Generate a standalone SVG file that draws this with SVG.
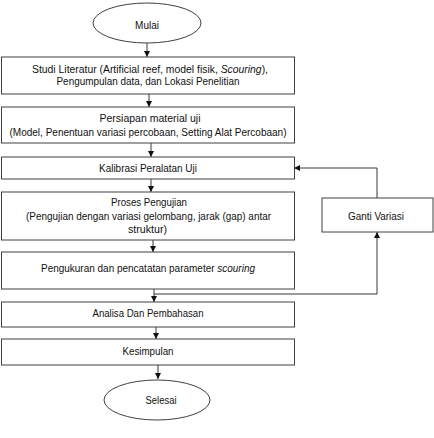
<svg xmlns="http://www.w3.org/2000/svg" width="434" height="438" viewBox="0 0 434 438">
<defs>
<style>
.box{fill:#fff;stroke:#404040;stroke-width:1}
.t{font-family:"Liberation Sans",Arial,sans-serif;font-size:10px;fill:#111;text-anchor:middle}
.c{fill:none;stroke:#222;stroke-width:0.9}
</style>
<marker id="ah" viewBox="0 0 10 10" refX="10" refY="5" markerWidth="6" markerHeight="6" markerUnits="userSpaceOnUse" orient="auto">
<path d="M0,0 L10,5 L0,10 Z" fill="#111"/>
</marker>
</defs>
<rect width="434" height="438" fill="#fff"/>
<g id="connectors">
<line class="c" x1="147" y1="43" x2="147" y2="57" marker-end="url(#ah)"/>
<line class="c" x1="149" y1="94" x2="149" y2="107" marker-end="url(#ah)"/>
<line class="c" x1="151" y1="143" x2="151" y2="157" marker-end="url(#ah)"/>
<line class="c" x1="151" y1="179" x2="151" y2="192" marker-end="url(#ah)"/>
<line class="c" x1="153" y1="240" x2="153" y2="252" marker-end="url(#ah)"/>
<line class="c" x1="154" y1="289" x2="154" y2="302" marker-end="url(#ah)"/>
<path class="c" d="M154,294 H377 V232" marker-end="url(#ah)"/>
<path class="c" d="M377,198 V168 H294" marker-end="url(#ah)"/>
<line class="c" x1="156" y1="327" x2="156" y2="339" marker-end="url(#ah)"/>
<line class="c" x1="158" y1="365" x2="158" y2="379" marker-end="url(#ah)"/>
</g>
<g id="mulai">
<ellipse class="box" cx="147" cy="23" rx="54" ry="20"/>
<text class="t" x="147" y="28.5">Mulai</text>
</g>
<g id="studi">
<rect class="box" x="1.5" y="57" width="293" height="37"/>
<text class="t" x="150" y="72.5" textLength="236" lengthAdjust="spacingAndGlyphs">Studi Literatur (Artificial reef, model fisik, <tspan font-style="italic">Scouring</tspan>),</text>
<text class="t" x="148" y="84.5" textLength="183" lengthAdjust="spacingAndGlyphs">Pengumpulan data, dan Lokasi Penelitian</text>
</g>
<g id="persiapan">
<rect class="box" x="1.5" y="107" width="293" height="36"/>
<text class="t" x="150" y="121.5" textLength="101" lengthAdjust="spacingAndGlyphs">Persiapan material uji</text>
<text class="t" x="148" y="135.5" textLength="277" lengthAdjust="spacingAndGlyphs">(Model, Penentuan variasi percobaan, Setting Alat Percobaan)</text>
</g>
<g id="kalibrasi">
<rect class="box" x="1.5" y="157" width="293" height="22"/>
<text class="t" x="148" y="171.5" textLength="98" lengthAdjust="spacingAndGlyphs">Kalibrasi Peralatan Uji</text>
</g>
<g id="proses">
<rect class="box" x="1.5" y="192" width="293" height="48"/>
<text class="t" x="149" y="206" textLength="76" lengthAdjust="spacingAndGlyphs">Proses Pengujian</text>
<text class="t" x="148.5" y="219.5" textLength="245" lengthAdjust="spacingAndGlyphs">(Pengujian dengan variasi gelombang, jarak (gap) antar</text>
<text class="t" x="147.5" y="233" textLength="39" lengthAdjust="spacingAndGlyphs">struktur)</text>
</g>
<g id="pengukuran">
<rect class="box" x="1.5" y="252" width="293" height="37"/>
<text class="t" x="148" y="271.5" textLength="214" lengthAdjust="spacingAndGlyphs">Pengukuran dan pencatatan parameter <tspan font-style="italic">scouring</tspan></text>
</g>
<g id="ganti">
<rect class="box" x="322" y="198" width="111" height="34"/>
<text class="t" x="376" y="219.5" textLength="56" lengthAdjust="spacingAndGlyphs">Ganti Variasi</text>
</g>
<g id="analisa">
<rect class="box" x="1.5" y="302" width="293" height="25"/>
<text class="t" x="148" y="316.5" textLength="111" lengthAdjust="spacingAndGlyphs">Analisa Dan Pembahasan</text>
</g>
<g id="kesimpulan">
<rect class="box" x="1.5" y="339" width="293" height="26"/>
<text class="t" x="148" y="354.5" textLength="51" lengthAdjust="spacingAndGlyphs">Kesimpulan</text>
</g>
<g id="selesai">
<ellipse class="box" cx="157" cy="400" rx="53" ry="20"/>
<text class="t" x="161" y="403.5" textLength="31" lengthAdjust="spacingAndGlyphs">Selesai</text>
</g>
</svg>
